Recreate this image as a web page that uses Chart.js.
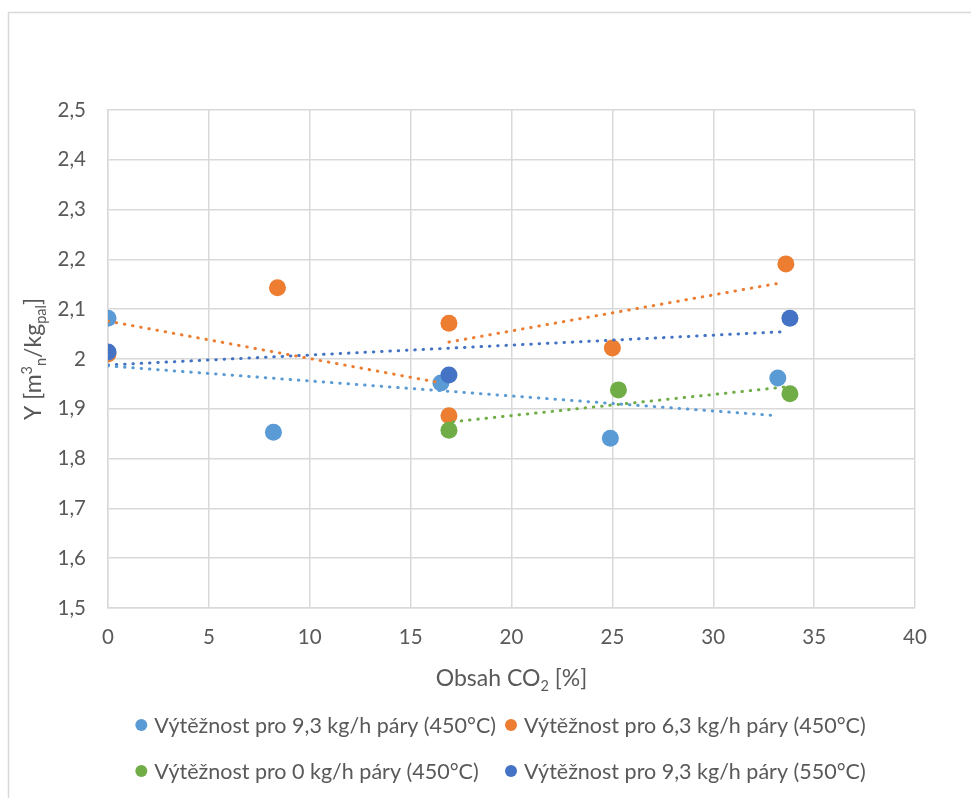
<!DOCTYPE html>
<html><head><meta charset="utf-8">
<script src="https://cdn.jsdelivr.net/npm/chart.js@4/dist/chart.umd.min.js"></script>
<style>html,body{margin:0;padding:0;background:#fff}#wrap{position:relative;width:971px;height:798px}</style>
</head><body><div id="wrap"><canvas id="c" width="971" height="798"></canvas></div>
<script>
// ---- data ----
const seriesNames = [
  'Výtěžnost pro 9,3 kg/h páry (450°C)',
  'Výtěžnost pro 6,3 kg/h páry (450°C)',
  'Výtěžnost pro 0 kg/h páry (450°C)',
  'Výtěžnost pro 9,3 kg/h páry (550°C)'
];
const s1X = [0, 8.2, 16.5, 24.9, 33.2];
const s1Y = [2.082, 1.853, 1.952, 1.841, 1.962];
const s2X = [0, 8.4, 16.9, 16.9, 25.0, 33.6];
const s2Y = [2.010, 2.143, 2.072, 1.886, 2.022, 2.191];
const s3X = [16.9, 25.3, 33.8];
const s3Y = [1.857, 1.938, 1.930];
const s4X = [0, 16.9, 33.8];
const s4Y = [2.014, 1.968, 2.082];
// trendline endpoints
const t1X = [0, 33.2],  t1Y = [1.986, 1.886];
const t2aX = [0, 16.5], t2aY = [2.076, 1.952];
const t2bX = [16.9, 33.5], t2bY = [2.034, 2.154];
const t3X = [17.1, 33.6], t3Y = [1.874, 1.944];
const t4X = [0, 33.6],  t4Y = [1.988, 2.055];
const xTickLabels = ['0','5','10','15','20','25','30','35','40'];
const yTickLabels = ['1,5','1,6','1,7','1,8','1,9','2','2,1','2,2','2,3','2,4','2,5'];
const colors = ['#5B9BD5', '#ED7D31', '#70AD47', '#4472C4'];

const pts = (xs, ys) => xs.map((x, i) => ({x, y: ys[i]}));
const FONT = 'Lato, "Liberation Sans", sans-serif';
const TXT = '#595959';
const TICK_SIZE = 20.5, LEGEND_SIZE = 21.5, TITLE_SIZE = 23, SUB_SIZE = 14.5;

const pointSets = [[s1X,s1Y],[s2X,s2Y],[s3X,s3Y],[s4X,s4Y]];
const trendSets = [[t1X,t1Y,0],[t2aX,t2aY,1],[t2bX,t2bY,1],[t3X,t3Y,2],[t4X,t4Y,3]];

const datasets = [];
pointSets.forEach(([xs,ys],i) => datasets.push({
  label: seriesNames[i], data: pts(xs,ys), showLine:false,
  pointRadius: 8.5, pointHoverRadius: 8.5, pointBorderWidth: 0,
  backgroundColor: colors[i], borderColor: colors[i], order: 10 - i
}));
trendSets.forEach(([xs,ys,ci]) => datasets.push({
  label: '', data: pts(xs,ys), showLine:true, pointRadius:0,
  borderColor: colors[ci], borderWidth: 3, borderDash:[0.5, 7.8],
  borderCapStyle:'round', fill:false, order: 1
}));

function drawRich(ctx, parts, cx, cy, rot) {
  ctx.save();
  ctx.translate(cx, cy);
  if (rot) ctx.rotate(rot);
  ctx.fillStyle = TXT;
  ctx.textBaseline = 'alphabetic';
  ctx.textAlign = 'left';
  let w = 0;
  parts.forEach(p => { ctx.font = (p.s || TITLE_SIZE) + 'px ' + FONT; p.w = ctx.measureText(p.t).width; w += p.w; });
  let x = -w / 2;
  parts.forEach(p => {
    ctx.font = (p.s || TITLE_SIZE) + 'px ' + FONT;
    ctx.fillText(p.t, x, 8 + (p.dy || 0));
    x += p.w;
  });
  ctx.restore();
}

const deco = {
  id: 'deco',
  beforeDraw(chart) {
    const ctx = chart.ctx;
    ctx.save();
    ctx.fillStyle = '#fff';
    ctx.fillRect(0,0,chart.width,chart.height);
    ctx.strokeStyle = '#d9d9d9';
    ctx.lineWidth = 1.5;
    ctx.strokeRect(8.5, 12.5, 1100, 1100);
    ctx.restore();
  },
  afterDraw(chart) {
    const ctx = chart.ctx;
    const a = chart.chartArea;
    // axis titles
    drawRich(ctx, [{t:'Obsah CO'},{t:'2', s:SUB_SIZE, dy:5},{t:' [%]'}], (a.left + a.right)/2, 678, 0);
    drawRich(ctx, [{t:'Y [m'},{t:'3', s:SUB_SIZE, dy:-9},{t:'n', s:SUB_SIZE, dy:5},{t:'/kg'},{t:'pal', s:SUB_SIZE, dy:5},{t:']'}], 33, (a.top + a.bottom)/2, -Math.PI/2);
    // legend
    ctx.save();
    ctx.font = LEGEND_SIZE + 'px ' + FONT;
    ctx.textBaseline = 'middle';
    ctx.textAlign = 'left';
    const r = 6, tgap = 7, colGap = 9;
    const widths = seriesNames.map(n => 2*r + tgap + ctx.measureText(n).width);
    const colW = Math.max(...widths);
    const total = 2*colW + colGap;
    const start = 500.5 - total/2;
    const rowsY = [725, 771];
    seriesNames.forEach((n, i) => {
      const row = Math.floor(i/2), col = i % 2;
      const x0 = start + col*(colW + colGap);
      const y = rowsY[row];
      ctx.fillStyle = colors[i];
      ctx.beginPath(); ctx.arc(x0 + r, y, r, 0, Math.PI*2); ctx.fill();
      ctx.fillStyle = TXT;
      ctx.fillText(n, x0 + 2*r + tgap, y + 1);
    });
    ctx.restore();
  }
};

new Chart(document.getElementById('c'), {
  type: 'scatter',
  data: { datasets },
  options: {
    responsive: false, animation: false, devicePixelRatio: 1,
    layout: { padding: { left: 0, top: 110, right: 56, bottom: 0 } },
    plugins: { legend: { display: false }, tooltip: { enabled: false } },
    scales: {
      x: {
        type: 'linear', min: 0, max: 40,
        afterFit(s) { s.height = 190; },
        grid: { color: '#d9d9d9', lineWidth: 1.5, drawTicks: false },
        border: { color: '#d9d9d9', width: 1.5 },
        ticks: { stepSize: 5, padding: 17, color: TXT, font: { size: TICK_SIZE, family: FONT },
          callback: (v) => xTickLabels[Math.round(v/5)] }
      },
      y: {
        type: 'linear', min: 1.5, max: 2.5,
        afterFit(s) { s.width = 108; },
        grid: { color: '#d9d9d9', lineWidth: 1.5, drawTicks: false },
        border: { color: '#d9d9d9', width: 1.5 },
        ticks: { stepSize: 0.1, padding: 22, color: TXT, font: { size: TICK_SIZE, family: FONT },
          callback: (v) => yTickLabels[Math.round((v - 1.5)*10)] }
      }
    }
  },
  plugins: [deco]
});
</script></body></html>
